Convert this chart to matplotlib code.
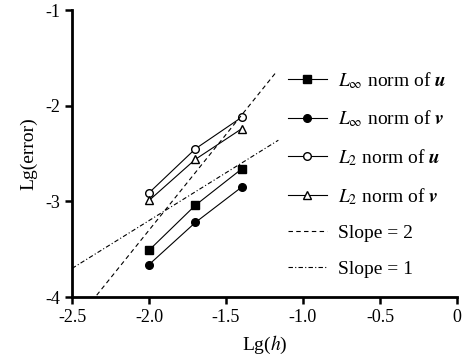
import matplotlib.pyplot as plt

plt.rcParams['font.family'] = ['Liberation Serif', 'DejaVu Serif']
plt.rcParams['mathtext.fontset'] = 'stix'

# log10 of mesh size
lg_h = [-2.0, -1.699, -1.398]

# log10 of errors
linf_u = [-3.51, -3.04, -2.66]
linf_v = [-3.66, -3.22, -2.85]
l2_u = [-2.91, -2.45, -2.12]
l2_v = [-2.99, -2.56, -2.24]

# reference slope lines (end points in lg(h))
slope2_x = [-2.34, -1.18]
slope2_b = 0.70
slope1_x = [-2.5, -1.16]
slope1_b = -1.20

fig = plt.figure(figsize=(4.62, 3.61), dpi=100)
ax = fig.add_axes([0.156, 0.177, 0.833, 0.795])

lw = 0.8
ax.plot(lg_h, linf_u, '-', color='black', lw=lw, marker='s', ms=6,
        mfc='black', label=r'$L_\infty$ norm of $\mathbfit{u}$')
ax.plot(lg_h, linf_v, '-', color='black', lw=lw, marker='o', ms=5.5,
        mfc='black', label=r'$L_\infty$ norm of $\mathbfit{v}$')
ax.plot(lg_h, l2_u, '-', color='black', lw=lw, marker='o', ms=5.5,
        mfc='white', label=r'$L_2$ norm of $\mathbfit{u}$')
ax.plot(lg_h, l2_v, '-', color='black', lw=lw, marker='^', ms=6,
        mfc='white', label=r'$L_2$ norm of $\mathbfit{v}$')
ax.plot(slope2_x, [2 * x + slope2_b for x in slope2_x], color='black',
        lw=0.8, ls=(0, (4, 3)), label='Slope = 2')
ax.plot(slope1_x, [x + slope1_b for x in slope1_x], color='black',
        lw=0.8, ls=(0, (4, 2, 1, 2)), label='Slope = 1')

ax.set_xlim(-2.5, 0)
ax.set_ylim(-4, -1)
ax.set_xticks([-2.5, -2.0, -1.5, -1.0, -0.5, 0])
ax.set_xticklabels(['-2.5', '-2.0', '-1.5', '-1.0', '-0.5', '0'])
ax.set_yticks([-4, -3, -2, -1])
ax.set_yticklabels(['-4', '-3', '-2', '-1'])
ax.tick_params(direction='out', length=5, width=1.8, labelsize=13)
for s in ['top', 'right']:
    ax.spines[s].set_visible(False)
for s in ['left', 'bottom']:
    ax.spines[s].set_linewidth(2)

ax.set_xlabel(r'Lg($\mathit{h}$)', fontsize=14, labelpad=6)
ax.set_ylabel('Lg(error)', fontsize=14, labelpad=6)

ax.legend(loc='upper left', bbox_to_anchor=(0.54, 0.818), frameon=False,
          fontsize=14, handlelength=2.0, handletextpad=0.6,
          labelspacing=0.92, borderaxespad=0)

fig.savefig('out.png', dpi=100)
